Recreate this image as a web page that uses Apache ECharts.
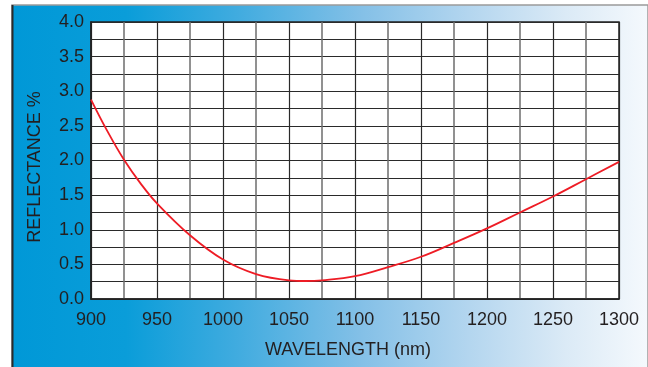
<!DOCTYPE html>
<html>
<head>
<meta charset="utf-8">
<script src="https://cdn.jsdelivr.net/npm/echarts@6/dist/echarts.min.js"></script>
<style>
html,body{margin:0;padding:0;background:#fff;}
#chart{width:648px;height:367px;}
</style>
</head>
<body>
<div id="chart"></div>
<script>
// Data
var wavelengths = [900, 912.5, 925, 937.5, 950, 975, 1000, 1025, 1050, 1062.5, 1075, 1100, 1125, 1150, 1175, 1200, 1225, 1250, 1275, 1300];
var reflectance = [2.88, 2.42, 2.01, 1.67, 1.38, 0.92, 0.57, 0.36, 0.27, 0.26, 0.27, 0.33, 0.46, 0.61, 0.81, 1.02, 1.25, 1.48, 1.73, 1.98];
var xTicks = [900, 950, 1000, 1050, 1100, 1150, 1200, 1250, 1300];
var yTicks = ['0.0','0.5','1.0','1.5','2.0','2.5','3.0','3.5','4.0'];
var xName = 'WAVELENGTH (nm)';
var yName = 'REFLECTANCE %';

var chart = echarts.init(document.getElementById('chart'), null, {renderer: 'canvas'});
var pts = wavelengths.map(function (w, i) { return [w, reflectance[i]]; });
var font = 'Liberation Sans, Arial, sans-serif';
var txt = '#231f20';

var option = {
  animation: false,
  backgroundColor: '#ffffff',
  graphic: [
    {
      type: 'rect', z: -10, silent: true,
      shape: {x: 12, y: 5, width: 636, height: 370},
      style: {
        fill: new echarts.graphic.LinearGradient(0, 0, 1, 0, [
          {offset: 0, color: '#0098d7'},
          {offset: 0.18, color: '#0a9dd9'},
          {offset: 0.35, color: '#3fabdf'},
          {offset: 0.55, color: '#84c0e7'},
          {offset: 0.72, color: '#b4d6ef'},
          {offset: 0.87, color: '#dbeaf6'},
          {offset: 1, color: '#f5f9fd'}
        ]),
        stroke: '#9a9a9a', lineWidth: 1.5
      }
    },
    {
      type: 'line', z: -9, silent: true,
      shape: {x1: 12.5, y1: 5, x2: 12.5, y2: 367},
      style: {stroke: '#2a2a2a', lineWidth: 2}
    },
    {
      type: 'text', silent: true,
      x: 348, y: 350,
      style: {text: xName, font: '18px ' + font, fill: txt, textAlign: 'center', textVerticalAlign: 'middle'}
    },
    {
      type: 'text', silent: true,
      x: 35, y: 167, rotation: Math.PI / 2,
      style: {text: yName, font: '18px ' + font, fill: txt, textAlign: 'center', textVerticalAlign: 'middle'}
    }
  ],
  grid: {
    left: 91, top: 22, right: 29, bottom: 68,
    show: true, backgroundColor: '#ffffff', borderColor: '#222', borderWidth: 1.5
  },
  xAxis: {
    type: 'value', min: 900, max: 1300, interval: 50,
    axisLine: {show: true, lineStyle: {color: '#222', width: 1.5}},
    axisTick: {show: false},
    axisLabel: {
      fontSize: 18, fontFamily: font, color: txt, margin: 12,
      formatter: function (v) { return xTicks.indexOf(v) >= 0 ? String(v) : ''; }
    },
    splitLine: {show: true, lineStyle: {color: '#2a2a2a', width: 1.2}},
    minorTick: {show: false, splitNumber: 2},
    minorSplitLine: {show: true, lineStyle: {color: '#6e6e6e', width: 1.5}}
  },
  yAxis: {
    type: 'value', min: 0, max: 4, interval: 0.5,
    axisLine: {show: true, lineStyle: {color: '#222', width: 1.5}},
    axisTick: {show: false},
    axisLabel: {
      fontSize: 18, fontFamily: font, color: txt, margin: 7,
      formatter: function (v) { var s = v.toFixed(1); return yTicks.indexOf(s) >= 0 ? s : ''; }
    },
    splitLine: {show: true, lineStyle: {color: '#2a2a2a', width: 1.2}},
    minorTick: {show: false, splitNumber: 2},
    minorSplitLine: {show: true, lineStyle: {color: '#2a2a2a', width: 1.2}}
  },
  series: [{
    type: 'line',
    data: pts,
    smooth: 0.4,
    showSymbol: false,
    lineStyle: {color: '#ee1c25', width: 1.8},
    z: 5
  }]
};
chart.setOption(option);
</script>
</body>
</html>
